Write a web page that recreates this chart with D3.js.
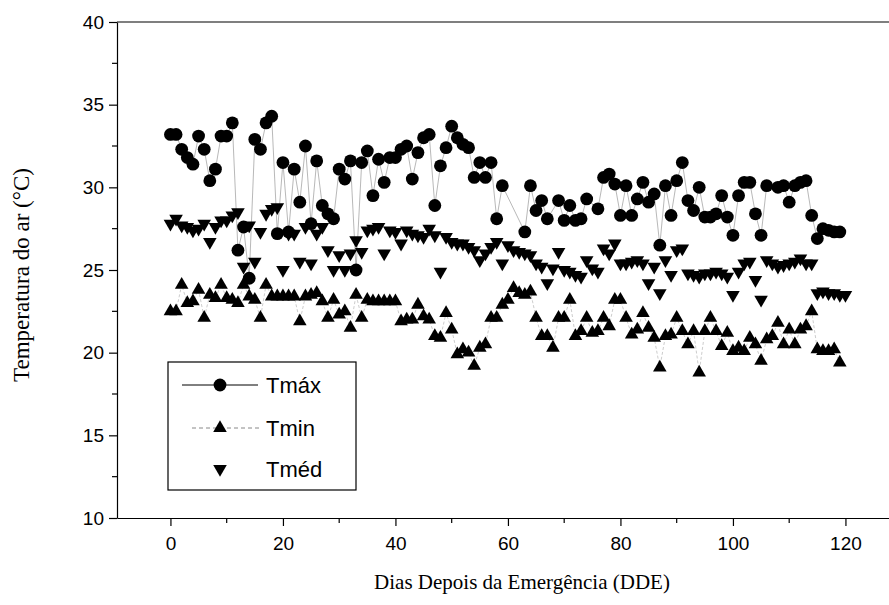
<!DOCTYPE html>
<html><head><meta charset="utf-8">
<script src="https://cdn.jsdelivr.net/npm/d3@7"></script>
<style>body{margin:0;background:#fff}svg{display:block}</style>
</head><body>
<svg id="c" width="889" height="605"></svg>
<script>
// ---- data ----
const days = d3.range(0, 121);
const tmax = [33.2,33.2,32.3,31.8,31.4,33.1,32.3,30.4,31.1,33.1,
33.1,33.9,26.2,27.6,24.5,32.9,32.3,33.9,34.3,27.2,
31.5,27.3,31.1,29.1,32.5,27.8,31.6,28.9,28.4,28.1,
31.1,30.5,31.6,25.0,31.5,32.2,29.5,31.7,30.3,31.8,
31.8,32.3,32.5,30.5,32.1,33.0,33.2,28.9,31.3,32.4,
33.7,33.0,32.6,32.4,30.6,31.5,30.6,31.5,28.1,30.1,
null,null,null,27.3,30.1,28.6,29.2,28.1,null,29.2,
28.0,28.9,28.0,28.1,29.3,null,28.7,30.6,30.8,30.2,
28.3,30.1,28.3,29.3,30.3,29.1,29.6,26.5,30.1,28.3,
30.4,31.5,29.2,28.6,30.0,28.2,28.2,28.4,29.5,28.2,
27.1,29.5,30.3,30.3,28.4,27.1,30.1,null,30.0,30.1,
29.1,30.1,30.3,30.4,28.3,26.9,27.5,27.4,27.3,27.3,null];
const tmin = [22.5,22.5,24.1,23.0,23.1,23.8,22.1,23.5,23.3,24.1,
23.3,23.2,23.0,24.1,23.4,23.2,22.1,24.1,23.4,23.4,
23.4,23.4,23.4,21.9,23.4,23.5,23.6,23.1,22.1,23.2,
22.3,22.5,21.5,23.5,22.1,23.2,23.1,23.1,23.1,23.1,
23.1,21.9,22.0,22.0,22.9,22.2,22.0,21.0,20.9,22.4,
21.4,19.9,20.2,20.0,19.2,20.3,20.5,22.1,22.1,22.9,
23.2,23.9,23.6,23.5,23.7,22.1,21.0,21.0,20.3,22.1,
22.1,23.2,21.0,21.3,22.1,21.2,21.3,22.1,21.6,23.2,
23.2,22.1,21.1,21.4,22.4,21.5,20.9,19.1,21.0,21.1,
22.1,21.3,20.5,21.3,18.8,21.3,22.1,21.3,20.4,21.2,
20.1,20.3,20.1,20.9,20.5,19.5,20.8,21.0,21.8,20.5,
21.4,20.5,21.4,21.6,22.5,20.2,20.1,20.1,20.2,19.4,null];
const tmed = [27.8,28.1,27.7,27.6,27.4,27.5,27.8,26.7,27.6,28.0,
28.0,28.3,28.5,25.2,27.7,25.5,27.3,28.4,28.7,28.8,
25.0,27.2,27.2,25.5,27.6,25.4,27.2,27.6,26.2,25.0,
25.9,25.0,26.0,26.8,26.1,27.4,27.5,27.6,26.0,27.4,
27.3,26.6,27.4,27.2,27.1,27.0,27.5,27.1,24.9,27.0,
26.7,26.6,26.6,26.4,26.2,25.6,26.0,26.4,26.7,25.4,
26.5,26.2,26.1,26.0,25.9,25.4,25.2,24.2,25.1,26.1,
25.0,24.9,24.7,24.6,25.6,25.1,24.9,26.3,26.0,26.6,
25.4,25.4,25.5,25.6,25.4,24.2,25.2,23.6,25.6,24.7,
26.2,26.3,24.8,24.7,24.6,24.8,24.8,24.9,24.8,24.6,
23.5,24.9,25.4,25.5,24.4,23.2,25.6,25.4,25.2,25.3,
25.4,25.5,25.7,25.4,25.4,23.6,23.7,23.6,23.6,23.5,23.5];
const xTicks = [0,20,40,60,80,100,120];
const yTicks = [10,15,20,25,30,35,40];
const seriesNames = ["Tmáx","Tmin","Tméd"];
const xTitle = "Dias Depois da Emergência (DDE)";
const yTitle = "Temperatura do ar (°C)";

// ---- drawing ----
const svg = d3.select("#c");
const L = 117, T = 22, B = 518;
const x = d3.scaleLinear().domain([-9.5, 130]).range([L, L + 139.5 * 5.625]);
const y = d3.scaleLinear().domain([10, 40]).range([B, T]);

const pts = arr => days.map((d,i)=>({d, v: arr[i]})).filter(p => p.v != null);

// frame
svg.append("line").attr("x1", L).attr("x2", 900).attr("y1", T).attr("y2", T)
  .attr("stroke","#000").attr("stroke-width",1.2);

// Tmin dashed line
svg.append("path").datum(pts(tmin))
  .attr("d", d3.line().x(p=>x(p.d)).y(p=>y(p.v)))
  .attr("fill","none").attr("stroke","#aaa").attr("stroke-width",0.6).attr("stroke-dasharray","3,2");
// Tmax line
svg.append("path").datum(pts(tmax))
  .attr("d", d3.line().x(p=>x(p.d)).y(p=>y(p.v)))
  .attr("fill","none").attr("stroke","#888").attr("stroke-width",0.6);

const tri = d3.symbol().type(d3.symbolTriangle).size(80);
svg.append("g").selectAll("path").data(pts(tmed)).join("path")
  .attr("d", tri).attr("transform", p=>`translate(${x(p.d)},${y(p.v)}) rotate(180)`).attr("fill","#000");
svg.append("g").selectAll("path").data(pts(tmin)).join("path")
  .attr("d", tri).attr("transform", p=>`translate(${x(p.d)},${y(p.v)})`).attr("fill","#000");
svg.append("g").selectAll("circle").data(pts(tmax)).join("circle")
  .attr("cx", p=>x(p.d)).attr("cy", p=>y(p.v)).attr("r", 6.4).attr("fill","#000");

// axes
const xMinor = d3.range(-10, 131, 10).filter(v => v >= -9.5 && !xTicks.includes(v));
const xAxis = svg.append("g").attr("transform",`translate(0,${B})`)
  .call(d3.axisBottom(x).tickValues(xTicks).tickSize(8).tickSizeOuter(0).tickPadding(11));
xAxis.select(".domain").attr("stroke-width",1.2);
xAxis.selectAll("text").attr("font-family","Liberation Sans, Arial, sans-serif").attr("font-size",19);
xAxis.selectAll(".tick line").attr("stroke-width",1.2);
svg.append("g").attr("transform",`translate(0,${B})`).selectAll("line").data(xMinor).join("line")
  .attr("x1", v=>x(v)).attr("x2", v=>x(v)).attr("y1",0).attr("y2",5).attr("stroke","#000").attr("stroke-width",1.2);

const yAxis = svg.append("g").attr("transform",`translate(${L},0)`)
  .call(d3.axisLeft(y).tickValues(yTicks).tickSize(8).tickSizeOuter(0).tickPadding(5));
yAxis.select(".domain").attr("stroke-width",1.2);
yAxis.selectAll("text").attr("font-family","Liberation Sans, Arial, sans-serif").attr("font-size",19);
yAxis.selectAll(".tick line").attr("stroke-width",1.2);
const yMinor = d3.range(12.5, 40, 5);
svg.append("g").attr("transform",`translate(${L},0)`).selectAll("line").data(yMinor).join("line")
  .attr("y1", v=>y(v)).attr("y2", v=>y(v)).attr("x1",0).attr("x2",-5).attr("stroke","#000").attr("stroke-width",1.2);

svg.append("text").attr("x", 522).attr("y", 589).attr("text-anchor","middle")
  .attr("font-family","Liberation Serif, Times New Roman, serif").attr("font-size",21).text(xTitle);
svg.append("text").attr("transform",`translate(29,${(T+B)/2 + 5}) rotate(-90)`).attr("text-anchor","middle")
  .attr("font-family","Liberation Serif, Times New Roman, serif").attr("font-size",23).text(yTitle);

// legend
const lg = svg.append("g");
lg.append("rect").attr("x",168).attr("y",362).attr("width",188).attr("height",128)
  .attr("fill","#fff").attr("stroke","#000").attr("stroke-width",1.2);
const rows = [385, 428, 469];
const mx = 220;
lg.append("line").attr("x1",182).attr("x2",258).attr("y1",rows[0]).attr("y2",rows[0]).attr("stroke","#000").attr("stroke-width",1);
lg.append("circle").attr("cx",mx).attr("cy",rows[0]).attr("r",6.4).attr("fill","#000");
lg.append("line").attr("x1",192).attr("x2",260).attr("y1",rows[1]).attr("y2",rows[1]).attr("stroke","#888").attr("stroke-width",1).attr("stroke-dasharray","4,3");
lg.append("path").attr("d",tri).attr("transform",`translate(${mx},${rows[1]})`).attr("fill","#000");
lg.append("path").attr("d",tri).attr("transform",`translate(${mx},${rows[2]}) rotate(180)`).attr("fill","#000");
lg.selectAll("text.l").data(seriesNames).join("text").attr("class","l")
  .attr("x",266).attr("y",(d,i)=>rows[i]+8).attr("font-family","Liberation Sans, Arial, sans-serif")
  .attr("font-size",22).text(d=>d);
</script>
</body></html>
